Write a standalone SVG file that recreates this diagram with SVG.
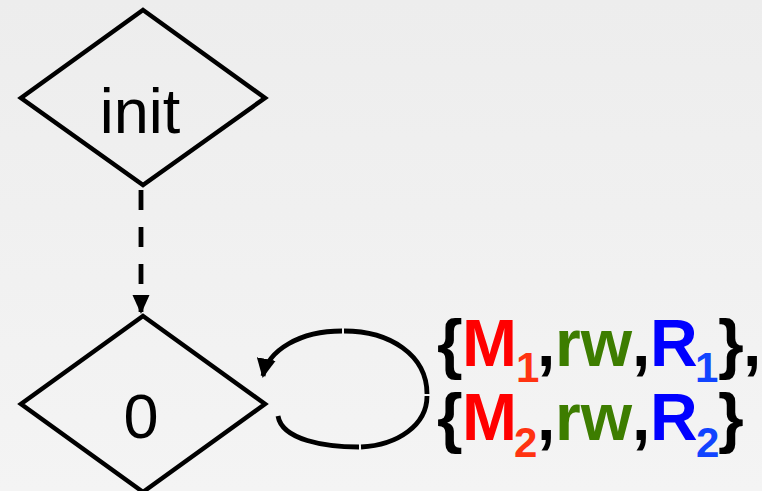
<svg xmlns="http://www.w3.org/2000/svg" width="762" height="491" viewBox="0 0 762 491">
<defs>
<linearGradient id="bg" x1="0" y1="0" x2="0" y2="1">
<stop offset="0" stop-color="#ededed"/>
<stop offset="1" stop-color="#f4f4f4"/>
</linearGradient>
<marker id="ah" markerWidth="4" markerHeight="4" refX="3.6" refY="2" orient="auto" markerUnits="strokeWidth">
<path d="M0,0 L4,2 L0,4 Z" fill="#000"/>
</marker>
<marker id="ah2" markerWidth="4" markerHeight="4" refX="3.6" refY="2" orient="auto" markerUnits="strokeWidth">
<path d="M0,0.2 L4,2 L0,3.8 Z" fill="#000"/>
</marker>
</defs>
<style>
.node{fill:none;stroke:#000;stroke-width:4.5;stroke-linejoin:miter}
.lbl{font-family:"Liberation Sans",Arial,sans-serif;font-size:63px;fill:#000;text-anchor:middle}
.edge{fill:none;stroke:#000;stroke-width:4.8}
.t{font-family:"Liberation Sans",Arial,sans-serif;font-weight:bold;font-size:66px}
.k{fill:#000}
.m{fill:#ff0000}
.ms{fill:#ff3311;font-size:42px}
.g{fill:#3d7d00}
.b{fill:#0000ff}
.bs{fill:#1144ff;font-size:42px}
</style>
<rect width="762" height="491" fill="url(#bg)"/>
<g id="init">
<polygon class="node" points="143,10 265,98 143,185 21,98"/>
<text class="lbl" x="140" y="133">init</text>
</g>
<g id="s0">
<polygon class="node" points="143,316 265,404 143,492 21,404"/>
<text class="lbl" x="141" y="438">0</text>
</g>
<g id="connectors">
<path class="edge" d="M141,190 L141,312" stroke-dasharray="20,17" marker-end="url(#ah2)"/>
<path class="edge" d="M278,416 C282,440 325,447 359,447 M361,447 C398,445 427,425 427,396 M427,394 C427,355 390,331 344,331 M342,331 C300,331 268,350 263,376" marker-end="url(#ah)"/>
</g>
<g id="label">
<text class="t" y="366"><tspan class="k" x="437">{</tspan><tspan class="m" x="462">M</tspan><tspan class="ms" x="516" y="382">1</tspan><tspan class="k" x="537" y="366">,</tspan><tspan class="g" x="555">rw</tspan><tspan class="k" x="632">,</tspan><tspan class="b" x="650">R</tspan><tspan class="bs" x="695" y="382">1</tspan><tspan class="k" x="718" y="366">}</tspan><tspan class="k" x="743">,</tspan></text>
<text class="t" y="440"><tspan class="k" x="437">{</tspan><tspan class="m" x="462">M</tspan><tspan class="ms" x="514" y="457">2</tspan><tspan class="k" x="537" y="440">,</tspan><tspan class="g" x="555">rw</tspan><tspan class="k" x="632">,</tspan><tspan class="b" x="650">R</tspan><tspan class="bs" x="696" y="457">2</tspan><tspan class="k" x="718" y="440">}</tspan></text>
</g>
</svg>
